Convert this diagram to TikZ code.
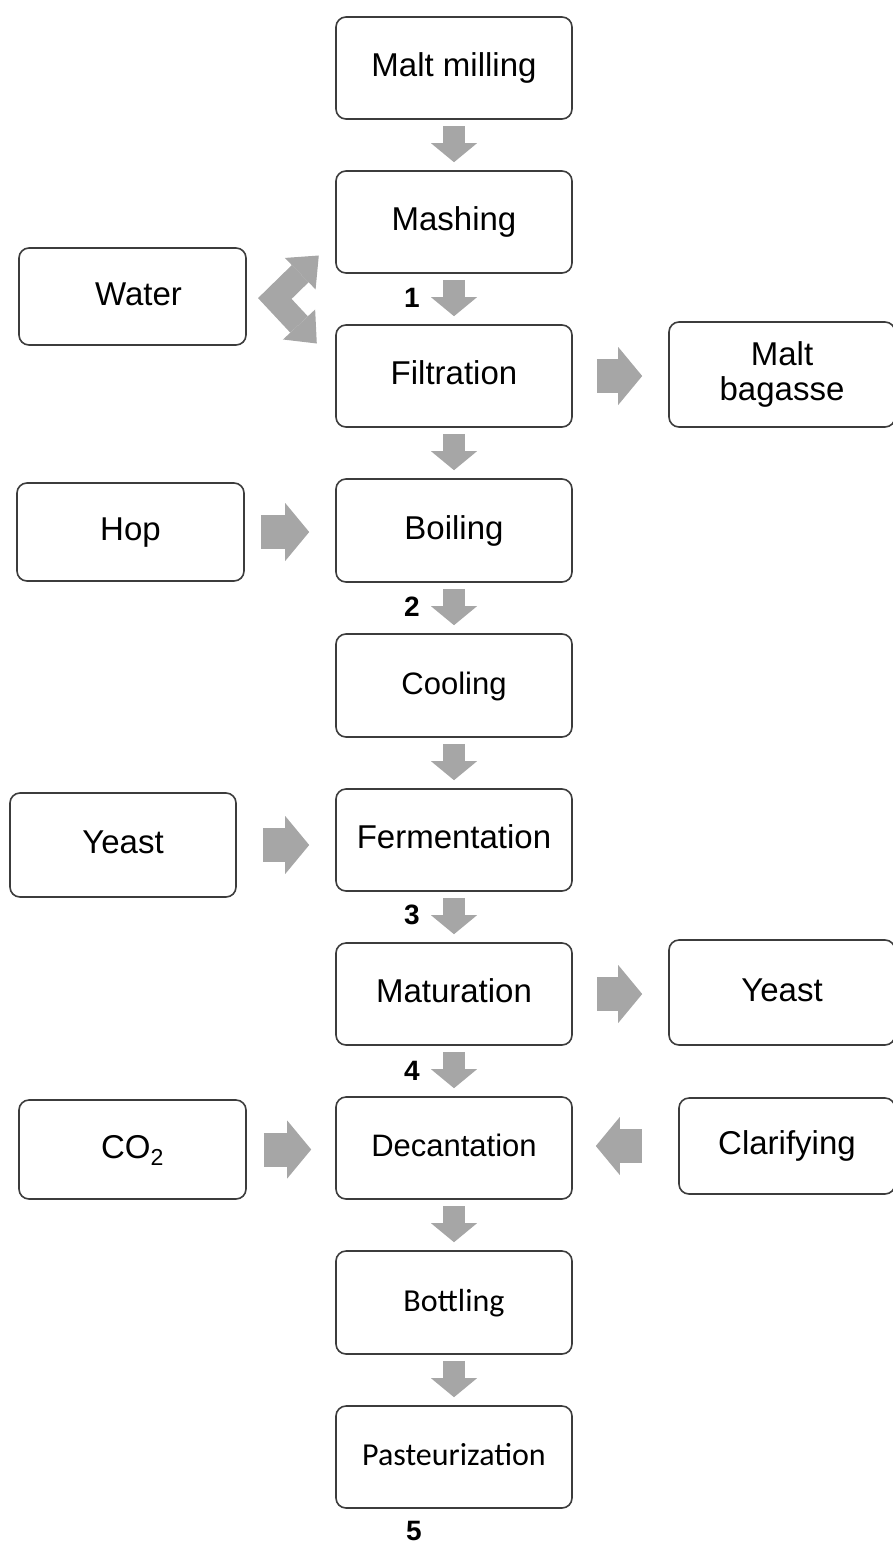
\documentclass[tikz,border=0pt]{standalone}
\usepackage{fontspec}
\setmainfont{Liberation Sans}
\newfontfamily\calib{Carlito}
\usetikzlibrary{arrows.meta}
\definecolor{arrowgray}{RGB}{166,166,166}
\definecolor{boxline}{RGB}{60,60,60}
\begin{document}
\begin{tikzpicture}[x=1pt,y=-1pt,
  boxbase/.style={draw=boxline, line width=1.6pt, rounded corners=10pt, fill=white,
    inner sep=0pt, align=center, font=\fontsize{33}{35}\selectfont},
  box/.style={boxbase, text height=24pt, text depth=7pt},
  smallbox/.style={box, font=\fontsize{31}{35}\selectfont},
  calbox/.style={box, font=\calib\fontsize{32}{35}\selectfont},
  vflow/.style={draw=arrowgray, line width=22pt,
    -{Triangle[width=46pt,length=19pt,line width=0pt]}, shorten <=6pt, shorten >=8pt},
  hflow/.style={draw=arrowgray, line width=34pt,
    -{Triangle[width=58pt,length=24pt,line width=0pt]}},
  wflow/.style={draw=arrowgray, line width=24pt, line join=miter,
    {Triangle[width=44pt,length=26pt,line width=0pt]}-{Triangle[width=44pt,length=26pt,line width=0pt]}},
  num/.style={font=\bfseries\fontsize{28}{30}\selectfont, inner sep=0pt}
]
\useasboundingbox (0,0) rectangle (893,1550);
\clip (0,0) rectangle (893,1550);

% main column
\node[box, minimum width=236pt, minimum height=102pt] (mill) at (454,68) {Malt milling};
\node[box, minimum width=236pt, minimum height=102pt] (mash) at (454,222) {Mashing};
\node[box, minimum width=236pt, minimum height=102pt] (filt) at (454,376) {Filtration};
\node[box, minimum width=236pt, minimum height=103pt] (boil) at (454,530.5) {Boiling};
\node[smallbox, minimum width=236pt, minimum height=103pt] (cool) at (454,685.5) {Cooling};
\node[box, minimum width=236pt, minimum height=102pt] (ferm) at (454,840) {Fermentation};
\node[box, minimum width=236pt, minimum height=102pt] (mat) at (454,994) {Maturation};
\node[smallbox, minimum width=236pt, minimum height=102pt] (dec) at (454,1148) {Decantation};
\node[calbox, minimum width=236pt, minimum height=103pt] (bot) at (454,1302.5) {Bottling};
\node[calbox, minimum width=236pt, minimum height=102pt] (past) at (454,1457) {Pasteurization};

% left column
\node[box, minimum width=227pt, minimum height=97pt] (water) at (132.5,296.5) {\hspace*{12pt}Water};
\node[box, minimum width=227pt, minimum height=98pt] (hop) at (130.5,532) {Hop};
\node[box, minimum width=226pt, minimum height=104pt] (yeastL) at (123,845) {Yeast};
\node[box, minimum width=227pt, minimum height=99pt] (co2) at (132.5,1149.5) {CO\textsubscript{2}};

% right column
\node[boxbase, minimum width=226pt, minimum height=105pt] (bag) at (782,374.5) {Malt\\bagasse};
\node[box, minimum width=226pt, minimum height=105pt] (yeastR) at (782,992.5) {Yeast};
\node[box, minimum width=216pt, minimum height=96pt] (clar) at (787,1146) {Clarifying};

% vertical flow arrows
\draw[vflow] (mill) -- (mash);
\draw[vflow] (mash) -- (filt);
\draw[vflow] (filt) -- (boil);
\draw[vflow] (boil) -- (cool);
\draw[vflow] (cool) -- (ferm);
\draw[vflow] (ferm) -- (mat);
\draw[vflow] (mat) -- (dec);
\draw[vflow] (dec) -- (bot);
\draw[vflow] (bot) -- (past);

% horizontal flow arrows
\draw[hflow, shorten <=24pt, shorten >=26pt] (filt.east) -- (filt.east -| bag.west);
\draw[hflow, shorten <=16pt, shorten >=26pt] (hop.east) -- (hop.east -| boil.west);
\draw[hflow, shorten <=26pt, shorten >=26pt] (yeastL.east) -- (yeastL.east -| ferm.west);
\draw[hflow, shorten <=24pt, shorten >=26pt] (mat.east) -- (mat.east -| yeastR.west);
\draw[hflow, shorten <=17pt, shorten >=24pt] (co2.east) -- (co2.east -| dec.west);
\draw[hflow, shorten <=36pt, shorten >=23pt] (clar.west) -- (clar.west -| dec.east);

% water bent double arrow
\coordinate (wv) at ([xshift=28pt,yshift=-2pt]water.east);
\coordinate (wup) at ([shift={(44,-43)}]wv);
\coordinate (wdn) at ([shift={(42,45)}]wv);
\draw[wflow] (wup) -- (wv) -- (wdn);

% numbers
\node[num] (n1) at (412,298) {1};
\node[num] (n2) at (412,607) {2};
\node[num] (n3) at (412,915) {3};
\node[num] (n4) at (412,1071) {4};
\node[num] (n5) at (414,1531) {5};
\end{tikzpicture}
\end{document}
